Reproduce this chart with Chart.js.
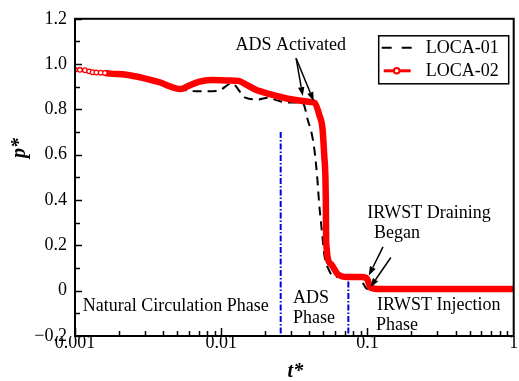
<!DOCTYPE html>
<html>
<head>
<meta charset="utf-8">
<script src="https://cdn.jsdelivr.net/npm/chart.js@4.4.1/dist/chart.umd.min.js"></script>
<style>
  html, body { margin: 0; padding: 0; background: #fff; }
  #wrap { width: 519px; height: 381px; }
</style>
</head>
<body>
<div id="wrap"><canvas id="pressureChart" width="519" height="381"></canvas></div>
<script>
// LOCA-01 (black dashed)
const loca01T = [0.001, 0.00117, 0.00132, 0.00173, 0.00224, 0.0029, 0.00376, 0.00528, 0.006, 0.0075, 0.0095, 0.0118, 0.0146, 0.0179, 0.0209, 0.0244, 0.0272, 0.0334, 0.0361, 0.037, 0.0392, 0.0411, 0.0433, 0.0454, 0.0468, 0.048, 0.0493, 0.0506, 0.0547, 0.0592, 0.075, 0.0877, 0.0995, 0.12, 1];
const loca01P = [0.975, 0.971, 0.964, 0.958, 0.953, 0.939, 0.92, 0.89, 0.882, 0.88, 0.882, 0.915, 0.852, 0.844, 0.852, 0.839, 0.832, 0.83, 0.828, 0.816, 0.75, 0.707, 0.626, 0.495, 0.379, 0.307, 0.234, 0.161, 0.089, 0.062, 0.06, 0.058, 0.008, 0.006, 0.006];

// LOCA-02 (red, circles)
const loca02T = [0.001, 0.00108, 0.00117, 0.00125, 0.00132, 0.0014, 0.0015, 0.0016, 0.00173, 0.00224, 0.0029, 0.00376, 0.00528, 0.006, 0.007, 0.0086, 0.0112, 0.0131, 0.0146, 0.0171, 0.0219, 0.0286, 0.0409, 0.0435, 0.047, 0.0493, 0.0506, 0.0516, 0.0519, 0.0522, 0.0561, 0.0623, 0.0728, 0.092, 0.0995, 0.1047, 0.1224, 0.3, 1];
const loca02P = [0.975, 0.975, 0.973, 0.968, 0.964, 0.963, 0.962, 0.961, 0.958, 0.953, 0.939, 0.92, 0.89, 0.905, 0.922, 0.93, 0.928, 0.926, 0.912, 0.888, 0.866, 0.847, 0.833, 0.829, 0.773, 0.713, 0.599, 0.495, 0.4, 0.21, 0.118, 0.074, 0.06, 0.06, 0.052, 0.014, 0.007, 0.007, 0.007];

// phase boundaries (blue dash-dot)
const phaseLineT = [0.0255, 0.074];
const phaseLineTop = [0.7, 0.04];
const phaseLineBottom = -0.19;

const yTicks = [-0.2, 0, 0.2, 0.4, 0.6, 0.8, 1.0, 1.2];
const yTickLabels = ["\u22120.2", "0", "0.2", "0.4", "0.6", "0.8", "1.0", "1.2"];
const xTicks = [0.001, 0.01, 0.1, 1];
const xTickLabels = ["0.001", "0.01", "0.1", "1"];

// annotation texts (left edge / baseline, data units)
const noteText = ["ADS Activated", "IRWST Draining", "Began", "IRWST Injection", "Phase", "ADS", "Phase", "Natural Circulation Phase"];
const noteT = [0.0125, 0.0995, 0.1109, 0.1162, 0.1142, 0.0309, 0.0309, 0.00113];
const noteP = [1.061, 0.32, 0.232, -0.086, -0.173, -0.055, -0.143, -0.09];

// arrows: from -> to
const arrowFromT = [0.0325, 0.0325, 0.1277, 0.1445];
const arrowFromP = [1.026, 1.026, 0.193, 0.1465];
const arrowToT = [0.0361, 0.0429, 0.1021, 0.1047];
const arrowToP = [0.859, 0.837, 0.0667, 0.0157];

const FONT = '"Liberation Serif", "Times New Roman", serif';

const toPoints = (ts, ps) => ts.map((t, i) => ({ x: t, y: ps[i] }));

function drawArrow(ctx, x1, y1, x2, y2) {
  const a = Math.atan2(y2 - y1, x2 - x1);
  const head = 9, half = 3.2;
  const bx = x2 - head * Math.cos(a), by = y2 - head * Math.sin(a);
  ctx.beginPath();
  ctx.moveTo(x1, y1);
  ctx.lineTo(bx, by);
  ctx.stroke();
  ctx.beginPath();
  ctx.moveTo(x2, y2);
  ctx.lineTo(bx + half * Math.sin(a), by - half * Math.cos(a));
  ctx.lineTo(bx - half * Math.sin(a), by + half * Math.cos(a));
  ctx.closePath();
  ctx.fill();
}

// frame, inward ticks, legend, notes, axis titles
const decorations = {
  id: "decorations",
  afterDraw(chart) {
    const { ctx, chartArea: area, scales: { x, y } } = chart;
    ctx.save();
    ctx.strokeStyle = "#000";
    ctx.fillStyle = "#000";

    // inward ticks
    ctx.lineWidth = 1.5;
    ctx.beginPath();
    for (let k = -2; k <= 12; k++) {
      const py = Math.round(y.getPixelForValue(k / 10)) + 0.5;
      const len = k % 2 === 0 ? 7 : 5;
      ctx.moveTo(area.left, py);
      ctx.lineTo(area.left + len, py);
    }
    [0.001, 0.01, 0.1].forEach(d => {
      for (let m = 1; m <= 9; m++) {
        const px = Math.round(x.getPixelForValue(m * d)) + 0.5;
        const len = m === 1 ? 8 : 5;
        ctx.moveTo(px, area.bottom);
        ctx.lineTo(px, area.bottom - len);
      }
    });
    ctx.stroke();

    // frame
    ctx.lineWidth = 2;
    ctx.strokeRect(area.left, area.top, area.right - area.left, area.bottom - area.top);

    // notes
    ctx.font = "18px " + FONT;
    ctx.textAlign = "left";
    ctx.textBaseline = "alphabetic";
    noteText.forEach((s, i) => {
      ctx.fillText(s, x.getPixelForValue(noteT[i]), y.getPixelForValue(noteP[i]));
    });

    ctx.lineWidth = 1.5;
    arrowFromT.forEach((t, i) => {
      drawArrow(ctx, x.getPixelForValue(t), y.getPixelForValue(arrowFromP[i]),
        x.getPixelForValue(arrowToT[i]), y.getPixelForValue(arrowToP[i]));
    });

    // legend
    const lx = area.right - 135, ly = area.top + 17, lw = 130, lh = 48;
    ctx.lineWidth = 1.5;
    ctx.strokeRect(lx, ly, lw, lh);
    ctx.lineWidth = 2;
    ctx.setLineDash([10, 10]);
    ctx.beginPath();
    ctx.moveTo(lx + 3, ly + 12);
    ctx.lineTo(lx + 33, ly + 12);
    ctx.stroke();
    ctx.setLineDash([]);
    ctx.strokeStyle = "#ff0000";
    ctx.lineWidth = 3;
    ctx.beginPath();
    ctx.moveTo(lx + 5, ly + 35);
    ctx.lineTo(lx + 32, ly + 35);
    ctx.stroke();
    ctx.fillStyle = "#fff";
    ctx.lineWidth = 2;
    ctx.beginPath();
    ctx.arc(lx + 18, ly + 35, 2.8, 0, Math.PI * 2);
    ctx.fill();
    ctx.stroke();
    ctx.fillStyle = "#000";
    ctx.textBaseline = "middle";
    ctx.fillText("LOCA-01", lx + 47, ly + 12);
    ctx.fillText("LOCA-02", lx + 47, ly + 35);

    // axis titles
    ctx.font = "italic bold 20px " + FONT;
    ctx.textAlign = "center";
    ctx.fillText("t*", (area.left + area.right) / 2 + 1, 372);
    ctx.translate(20, 148);
    ctx.rotate(-Math.PI / 2);
    ctx.fillText("p*", 0, 0);
    ctx.restore();
  }
};

const phaseSets = phaseLineT.map((t, i) => ({
  label: "phase" + i,
  data: [{ x: t, y: phaseLineTop[i] }, { x: t, y: phaseLineBottom }],
  borderColor: "#0000dd",
  borderWidth: 2,
  borderDash: [6, 2, 1.5, 2],
  pointRadius: 0,
  order: 2
}));

new Chart(document.getElementById("pressureChart"), {
  type: "line",
  data: {
    datasets: [
      {
        label: "LOCA-02",
        data: toPoints(loca02T, loca02P),
        borderColor: "#ff0000",
        // thin chain of circles at the start, thick band afterwards
        segment: { borderWidth: c => (c.p0.parsed.x < 0.0016 ? 3 : 6.5) },
        borderWidth: 6.5,
        pointRadius: c => (c.raw && c.raw.x < 0.0017 ? 2.3 : 0),
        pointBorderWidth: 1.3,
        pointBorderColor: "#ff0000",
        pointBackgroundColor: "#fff",
        cubicInterpolationMode: "monotone",
        order: 0
      },
      {
        label: "LOCA-01",
        data: toPoints(loca01T, loca01P),
        borderColor: "#000",
        borderWidth: 2,
        borderDash: [9, 6],
        pointRadius: 0,
        cubicInterpolationMode: "monotone",
        order: 1
      },
      ...phaseSets
    ]
  },
  options: {
    responsive: false,
    animation: false,
    layout: { padding: { top: 15, right: 1, left: 0, bottom: 0 } },
    plugins: { legend: { display: false }, tooltip: { enabled: false } },
    scales: {
      x: {
        type: "logarithmic",
        min: 0.001,
        max: 1,
        afterBuildTicks: s => { s.ticks = xTicks.map(v => ({ value: v })); },
        afterFit: s => { s.height = 45; },
        grid: { display: false, drawTicks: false },
        border: { display: false },
        ticks: {
          autoSkip: false,
          maxRotation: 0,
          padding: -2,
          color: "#000",
          font: { family: FONT, size: 18, lineHeight: 1 },
          callback: (v, i) => xTickLabels[i]
        }
      },
      y: {
        type: "linear",
        min: -0.2,
        max: 1.2,
        afterBuildTicks: s => { s.ticks = yTicks.map(v => ({ value: v })); },
        afterFit: s => { s.width = 75; },
        grid: { display: false, drawTicks: false },
        border: { display: false },
        ticks: {
          padding: 8,
          color: "#000",
          font: { family: FONT, size: 18 },
          callback: (v, i) => yTickLabels[i]
        }
      }
    }
  },
  plugins: [decorations]
});
</script>
</body>
</html>
